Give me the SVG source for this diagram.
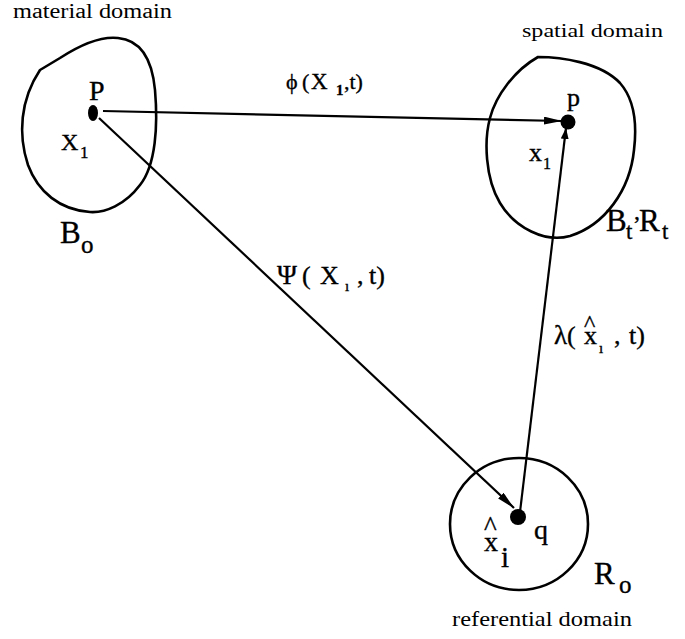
<svg xmlns="http://www.w3.org/2000/svg" width="685" height="639" viewBox="0 0 685 639">
<style>
  .blob{fill:none;stroke:#000;stroke-width:2.6;stroke-linejoin:round}
  .conn{fill:none;stroke:#000;stroke-width:2.2}
  .dot{fill:#000}
  text{font-family:"Liberation Serif","Times New Roman",serif;fill:#000;stroke:#000;stroke-width:0.35}
  text.dom{stroke:none}
</style>
<defs>
  <marker id="ah" markerUnits="userSpaceOnUse" markerWidth="20" markerHeight="10" refX="18" refY="4" orient="auto">
    <path d="M0,0 L18,4 L0,8 Z" fill="#000"/>
  </marker>
  <marker id="ahs" markerUnits="userSpaceOnUse" markerWidth="14" markerHeight="10" refX="11" refY="4" orient="auto">
    <path d="M0,0 L11,4 L0,8 Z" fill="#000"/>
  </marker>
</defs>
<rect width="685" height="639" fill="#fff"/>

<g id="connectors">
  <line class="conn" x1="103" y1="111" x2="562" y2="121" marker-end="url(#ah)"/>
  <line class="conn" x1="99" y1="118" x2="514" y2="508" marker-end="url(#ah)"/>
  <line class="conn" x1="520" y1="512" x2="566" y2="128" marker-end="url(#ahs)"/>
  <text x="286" y="89" font-size="22">ϕ</text>
  <text x="302" y="89" font-size="22">(</text>
  <text x="311" y="89" font-size="23">X</text>
  <text x="336" y="95" font-size="15" font-weight="bold">1</text>
  <text x="344" y="89" font-size="22">,t)</text>
  <text x="277" y="284" font-size="27">Ψ</text>
  <text x="302" y="284" font-size="26">(</text>
  <text x="320" y="284" font-size="26">X</text>
  <text x="345" y="291" font-size="15">ı</text>
  <text x="357" y="284" font-size="26">,</text>
  <text x="369" y="284" font-size="26">t)</text>
  <text x="554" y="344" font-size="27">λ</text>
  <text x="567" y="344" font-size="26">(</text>
  <text x="584" y="344" font-size="26"><tspan x="584" dy="-13" font-size="24">^</tspan><tspan x="584" dy="13">x</tspan></text>
  <text x="599" y="353" font-size="15">ı</text>
  <text x="614" y="344" font-size="26">,</text>
  <text x="629" y="344" font-size="26">t)</text>
</g>

<g id="material">
  <path class="blob" d="M40,70 L60,58 C80,45 100,36 118,38 C140,40 152,58 155,90 C158,125 156,165 140,185 C125,205 105,213 90,212 C60,210 38,192 28,165 C18,135 20,100 40,70 Z"/>
  <ellipse class="dot" cx="93" cy="113" rx="5" ry="8"/>
  <text x="89" y="100" font-size="28">P</text>
  <text x="61" y="150" font-size="24">X</text>
  <text x="80" y="158" font-size="17">1</text>
  <text x="60" y="243" font-size="31">B</text>
  <text x="81" y="253" font-size="25">o</text>
  <text class="dom" x="13" y="18" font-size="20" textLength="159" lengthAdjust="spacingAndGlyphs">material domain</text>
</g>

<g id="spatial">
  <path class="blob" d="M538,57 C560,57 600,62 620,83 C635,100 637,125 634,150 C630,190 605,225 570,236 C545,243 515,228 500,203 C485,178 484,140 490,118 C496,95 515,70 538,57 Z"/>
  <circle class="dot" cx="568" cy="122" r="7.5"/>
  <text x="567" y="106" font-size="26">p</text>
  <text x="529" y="161" font-size="26">x</text>
  <text x="543" y="169" font-size="16">1</text>
  <text x="606" y="231" font-size="31">B</text>
  <text x="626" y="239" font-size="23">t</text>
  <text x="634" y="219" font-size="24">,</text>
  <text x="639" y="231" font-size="31">R</text>
  <text x="662" y="239" font-size="23">t</text>
  <text class="dom" x="522" y="37" font-size="19" textLength="141" lengthAdjust="spacingAndGlyphs">spatial domain</text>
</g>

<g id="referential">
  <ellipse class="blob" cx="519" cy="524" rx="69" ry="66"/>
  <circle class="dot" cx="518" cy="517" r="8"/>
  <text x="484" y="551" font-size="28"><tspan x="484" dy="-16" font-size="27">^</tspan><tspan x="484" dy="16">x</tspan></text>
  <text x="501" y="567" font-size="29">i</text>
  <text x="534" y="539" font-size="28">q</text>
  <text x="594" y="584" font-size="31">R</text>
  <text x="619" y="593" font-size="25">o</text>
  <text class="dom" x="452" y="626" font-size="21" textLength="180" lengthAdjust="spacingAndGlyphs">referential domain</text>
</g>
</svg>
